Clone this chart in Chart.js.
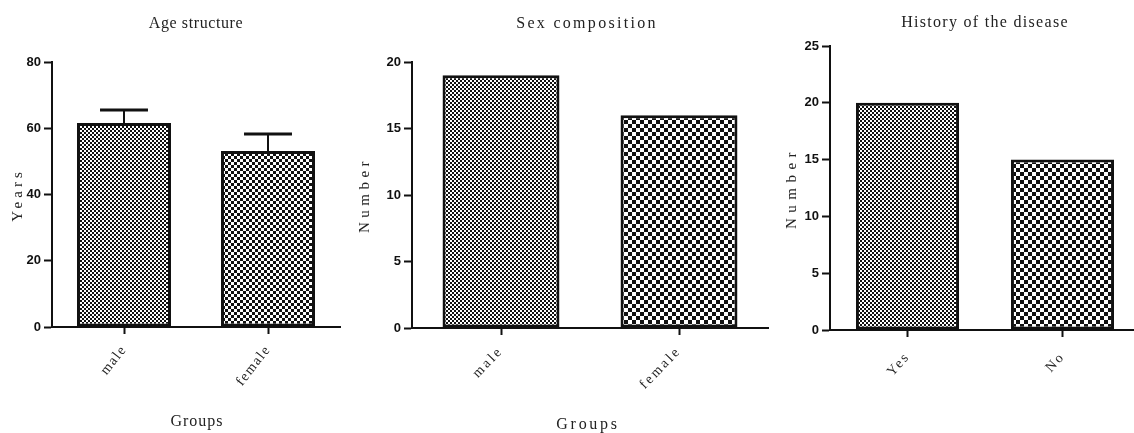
<!DOCTYPE html>
<html>
<head>
<meta charset="utf-8">
<script src="https://cdn.jsdelivr.net/npm/chart.js@4.4.1/dist/chart.umd.min.js"></script>
<style>
html, body { margin: 0; padding: 0; background: #fff; overflow: hidden; }
.panel { position: absolute; left: 0; top: 0; width: 1150px; height: 433px; }
</style>
</head>
<body>
<div class="panel"><canvas id="ageChart" width="1150" height="433"></canvas></div>
<div class="panel"><canvas id="sexChart" width="1150" height="433"></canvas></div>
<div class="panel"><canvas id="historyChart" width="1150" height="433"></canvas></div>
<script>
// values
const sexGroups = ['male', 'female'];
const historyGroups = ['Yes', 'No'];
const ageMean = [61.6, 53.1];
const ageError = [3.9, 5.2];
const sexCount = [19, 16];
const historyCount = [20, 15];
const ageTicks = [0, 20, 40, 60, 80];
const sexTicks = [0, 5, 10, 15, 20];
const historyTicks = [0, 5, 10, 15, 20, 25];

const serif = '"Liberation Serif", "Times New Roman", serif';
const sans = '"Liberation Sans Narrow", "Liberation Sans", Arial, sans-serif';

function checker(ctx, size) {
    const c = document.createElement('canvas');
    c.width = c.height = size * 2;
    const g = c.getContext('2d');
    g.fillStyle = '#fff';
    g.fillRect(0, 0, size * 2, size * 2);
    g.fillStyle = '#111';
    g.fillRect(0, 0, size, size);
    g.fillRect(size, size, size, size);
    return ctx.createPattern(c, 'repeat');
}

// titles and axis titles, drawn with letter spacing
const panelText = {
    id: 'panelText',
    beforeDraw(chart) {
        chart.ctx.letterSpacing = '0px';
    },
    afterDraw(chart, args, opts) {
        const ctx = chart.ctx;
        (opts.items || []).forEach(t => {
            ctx.save();
            ctx.font = t.font;
            ctx.letterSpacing = t.spacing + 'px';
            ctx.fillStyle = '#222';
            ctx.textAlign = 'center';
            ctx.textBaseline = 'middle';
            ctx.translate(t.x, t.y);
            if (t.rotate) ctx.rotate(t.rotate);
            ctx.fillText(t.text, 0, 0);
            ctx.restore();
        });
    }
};

const errorBars = {
    id: 'errorBars',
    afterDatasetsDraw(chart, args, opts) {
        if (!opts.errors) return;
        const ctx = chart.ctx;
        const y = chart.scales.y;
        const values = chart.data.datasets[0].data;
        ctx.save();
        ctx.strokeStyle = '#111';
        chart.getDatasetMeta(0).data.forEach((bar, i) => {
            const top = y.getPixelForValue(values[i] + opts.errors[i]);
            const half = bar.width * 0.255;
            ctx.lineWidth = 2;
            ctx.beginPath();
            ctx.moveTo(bar.x, bar.y);
            ctx.lineTo(bar.x, top);
            ctx.stroke();
            ctx.lineWidth = 3;
            ctx.beginPath();
            ctx.moveTo(bar.x - half, top);
            ctx.lineTo(bar.x + half, top);
            ctx.stroke();
        });
        ctx.restore();
    }
};

function makeChart(id, cfg) {
    const ctx = document.getElementById(id).getContext('2d');
    const yWidth = 40;
    return new Chart(ctx, {
        type: 'bar',
        data: {
            labels: cfg.labels,
            datasets: [{
                data: cfg.values,
                backgroundColor: [checker(ctx, 2), checker(ctx, cfg.coarse)],
                borderColor: '#111',
                borderWidth: 3,
                borderSkipped: false,
                barPercentage: cfg.barPct,
                categoryPercentage: 1
            }]
        },
        options: {
            responsive: false,
            animation: false,
            events: [],
            layout: {
                padding: {
                    left: cfg.area.left - yWidth,
                    right: 1150 - cfg.area.right,
                    top: cfg.area.top,
                    bottom: 0
                }
            },
            plugins: {
                legend: { display: false },
                tooltip: { enabled: false },
                panelText: { items: cfg.texts },
                errorBars: { errors: cfg.errors }
            },
            scales: {
                x: {
                    grid: {
                        offset: false,
                        drawOnChartArea: false,
                        tickLength: 7,
                        tickWidth: 2,
                        tickColor: '#111'
                    },
                    border: { width: 2, color: '#111' },
                    ticks: {
                        color: '#222',
                        font: { family: serif, size: 14 },
                        minRotation: cfg.rotation,
                        maxRotation: cfg.rotation,
                        padding: cfg.labelPad
                    },
                    afterFit(s) {
                        s.height = 433 - cfg.area.bottom;
                        if (!s._spaced) {
                            // category labels are letter-spaced in the figure
                            const draw = s.drawLabels;
                            s.drawLabels = function (area) {
                                this.ctx.save();
                                this.ctx.letterSpacing = cfg.tickSpacing + 'px';
                                draw.call(this, area);
                                this.ctx.restore();
                            };
                            s._spaced = true;
                        }
                    }
                },
                y: {
                    min: 0,
                    max: cfg.ticks[cfg.ticks.length - 1],
                    afterBuildTicks(s) { s.ticks = cfg.ticks.map(v => ({ value: v })); },
                    grid: {
                        drawOnChartArea: false,
                        tickLength: 8,
                        tickWidth: 2,
                        tickColor: '#111'
                    },
                    border: { width: 2, color: '#111' },
                    ticks: {
                        color: '#111',
                        font: { family: sans, size: 13, weight: 'bold' },
                        padding: 3
                    },
                    afterFit(s) { s.width = yWidth; }
                }
            }
        },
        plugins: [panelText, errorBars]
    });
}

document.addEventListener("DOMContentLoaded", () => {
    makeChart('ageChart', {
        labels: sexGroups,
        values: ageMean,
        errors: ageError,
        ticks: ageTicks,
        coarse: 3,
        barPct: 0.653,
        rotation: 52,
        labelPad: 8,
        tickSpacing: 1.5,
        area: { left: 52, right: 340, top: 62, bottom: 327 },
        texts: [
            { text: 'Age structure', x: 196, y: 24, font: '16px ' + serif, spacing: 0.6 },
            { text: 'Years', x: 18, y: 195, font: '15px ' + serif, spacing: 4, rotate: -Math.PI / 2 },
            { text: 'Groups', x: 197, y: 422, font: '16px ' + serif, spacing: 1 }
        ]
    });
    makeChart('sexChart', {
        labels: sexGroups,
        values: sexCount,
        ticks: sexTicks,
        coarse: 4,
        barPct: 0.657,
        rotation: 46,
        labelPad: 8,
        tickSpacing: 2.5,
        area: { left: 412, right: 768, top: 62, bottom: 328 },
        texts: [
            { text: 'Sex composition', x: 587, y: 24, font: '16px ' + serif, spacing: 2.3 },
            { text: 'Number', x: 365, y: 195, font: '15px ' + serif, spacing: 4.5, rotate: -Math.PI / 2 },
            { text: 'Groups', x: 588, y: 425, font: '16px ' + serif, spacing: 2.7 }
        ]
    });
    makeChart('historyChart', {
        labels: historyGroups,
        values: historyCount,
        ticks: historyTicks,
        coarse: 4,
        barPct: 0.665,
        rotation: 48,
        labelPad: 12,
        tickSpacing: 2,
        area: { left: 830, right: 1140, top: 46, bottom: 330 },
        texts: [
            { text: 'History of the disease', x: 985, y: 23, font: '16px ' + serif, spacing: 1.3 },
            { text: 'Number', x: 792, y: 188, font: '15px ' + serif, spacing: 5.5, rotate: -Math.PI / 2 }
        ]
    });
});
</script>
</body>
</html>
